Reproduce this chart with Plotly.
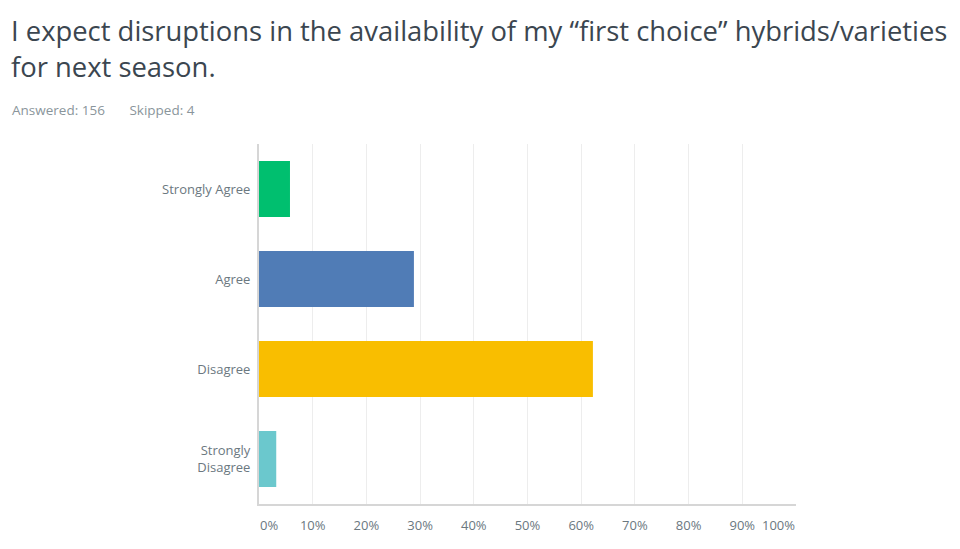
import plotly.graph_objects as go

categories = ["Strongly Agree", "Agree", "Disagree", "Strongly<br>Disagree"]
percentages = [5.77, 28.85, 62.18, 3.21]
colors = ["#00BF6F", "#507CB6", "#F9BE00", "#6BC8CD"]
tick_vals = [10, 20, 30, 40, 50, 60, 70, 80, 90]
tick_text = [f"{v}%" for v in tick_vals]
title_text = "I expect disruptions in the availability of my \u201cfirst choice\u201d hybrids/varieties<br>for next season."
sub_text = "Answered: 156&nbsp;&nbsp;&nbsp;&nbsp;&nbsp;&nbsp;&nbsp;Skipped: 4"

W, H = 960, 549
L, R, T, B = 259, 164, 144, 45
pw, ph = W - L - R, H - T - B

fig = go.Figure(go.Bar(
    x=percentages, y=categories, orientation="h",
    marker=dict(color=colors, line=dict(width=0)),
    width=0.62, hoverinfo="skip",
))

font = "Open Sans, Lato, sans-serif"
fig.update_layout(
    width=W, height=H,
    margin=dict(l=L, r=R, t=T, b=B),
    paper_bgcolor="white", plot_bgcolor="white",
    showlegend=False,
    font=dict(family=font, color="#6B787F", size=13),
    xaxis=dict(range=[0, 100], tickvals=tick_vals, ticktext=tick_text,
               showgrid=True, gridcolor="#EDEDED", gridwidth=1,
               showline=True, linecolor="#D6D6D6", linewidth=2,
               zeroline=False, ticks="", fixedrange=True,
               ticklabelstandoff=8,
               tickfont=dict(size=13, color="#6B787F")),
    yaxis=dict(autorange="reversed", range=[3.5, -0.5],
               showgrid=False, showline=True, linecolor="#D6D6D6", linewidth=2,
               ticks="", ticklabelstandoff=4,
               tickfont=dict(size=13, color="#6B787F")),
)

# title
fig.add_annotation(x=(9 - L) / pw, y=(504 - 10) / ph, xref="paper", yref="paper",
                   text=title_text, showarrow=False, xanchor="left", yanchor="top",
                   align="left",
                   font=dict(family=font, size=27.4, color="#3B4650"))
# end labels of the x axis, shifted inward like the original
fig.add_annotation(x=(269 - L) / pw, y=(504 - 525) / ph, xref="paper", yref="paper",
                   text="0%", showarrow=False, xanchor="center", yanchor="middle",
                   font=dict(family=font, size=13, color="#6B787F"))
fig.add_annotation(x=(778 - L) / pw, y=(504 - 525) / ph, xref="paper", yref="paper",
                   text="100%", showarrow=False, xanchor="center", yanchor="middle",
                   font=dict(family=font, size=13, color="#6B787F"))
fig.add_annotation(x=(10 - L) / pw, y=(504 - 110) / ph, xref="paper", yref="paper",
                   text=sub_text, showarrow=False, xanchor="left", yanchor="middle",
                   font=dict(family=font, size=13.5, color="#8A959B"))

fig.write_html("out.html")
